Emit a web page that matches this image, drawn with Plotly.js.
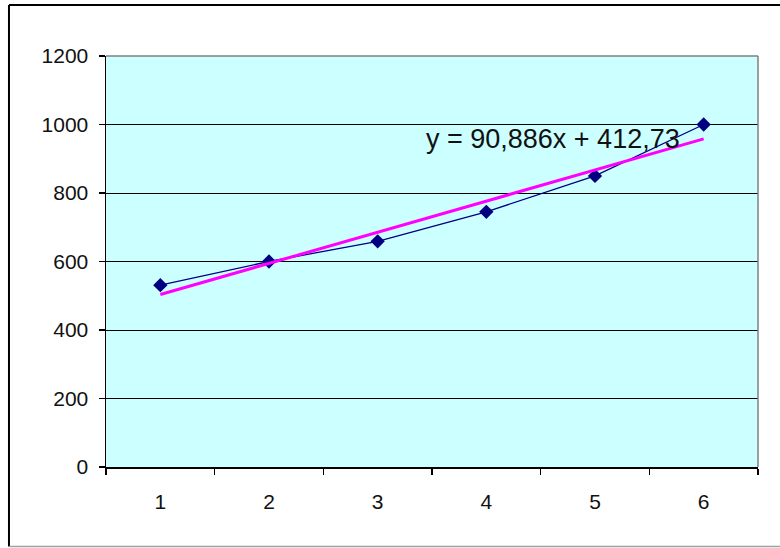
<!DOCTYPE html>
<html>
<head>
<meta charset="utf-8">
<script src="https://cdn.plot.ly/plotly-3.0.1.min.js"></script>
<style>html,body{margin:0;padding:0;background:#fff;}#chart{width:780px;height:548px;}</style>
</head>
<body>
<div id="chart"></div>
<script>
const categories = ["1", "2", "3", "4", "5", "6"];
const values = [531, 600, 659, 745, 850, 1000];
const yTicks = [0, 200, 400, 600, 800, 1000, 1200];

// least-squares linear trend over category index 1..n
const xs = categories.map((c, i) => i + 1);
const n = xs.length;
const mx = xs.reduce((a, b) => a + b, 0) / n;
const my = values.reduce((a, b) => a + b, 0) / n;
let sxy = 0, sxx = 0;
for (let i = 0; i < n; i++) { sxy += (xs[i] - mx) * (values[i] - my); sxx += (xs[i] - mx) ** 2; }
const slope = sxy / sxx;
const intercept = my - slope * mx;
const trend = xs.map(x => slope * x + intercept);
const fmt = (v, d) => v.toFixed(d).replace('.', ',');
const eqText = 'y = ' + fmt(slope, 3) + 'x + ' + fmt(intercept, 2);

const data = [
  {
    x: categories, y: values, type: 'scatter', mode: 'lines+markers',
    line: {color: '#000080', width: 1.3},
    marker: {symbol: 'diamond', size: 11, color: '#000080'},
    hoverinfo: 'skip'
  },
  {
    x: categories, y: trend, type: 'scatter', mode: 'lines',
    line: {color: '#FF00FF', width: 3},
    hoverinfo: 'skip'
  }
];

const tickFont = {family: 'Arial, "Liberation Sans", sans-serif', color: '#111', size: 21};

const layout = {
  width: 780, height: 548,
  margin: {l: 106, r: 22, t: 56, b: 81},
  paper_bgcolor: '#ffffff',
  plot_bgcolor: '#CCFFFF',
  showlegend: false,
  font: tickFont,
  xaxis: {
    type: 'category', range: [-0.5, 5.5], fixedrange: true,
    tickson: 'boundaries', ticks: 'outside', ticklen: 6, tickwidth: 1.5, tickcolor: '#000',
    tickfont: tickFont,
    showgrid: false, showline: true, linecolor: '#000', linewidth: 1.5,
    ticklabelstandoff: 15, zeroline: false
  },
  yaxis: {
    range: [0, 1200], tickvals: yTicks, ticktext: yTicks.map(String), fixedrange: true,
    ticks: 'outside', ticklen: 6, tickwidth: 1.5, tickcolor: '#000',
    tickfont: tickFont,
    showgrid: true, gridcolor: '#000', gridwidth: 1,
    showline: true, linecolor: '#000', linewidth: 1.5,
    ticklabelstandoff: 6, zeroline: false
  },
  shapes: [
    {type: 'line', xref: 'paper', yref: 'paper', x0: 0, x1: 1, y0: 1, y1: 1, line: {color: '#808080', width: 1.5}},
    {type: 'line', xref: 'paper', yref: 'paper', x0: 1, x1: 1, y0: 0, y1: 1, line: {color: '#808080', width: 1.5}},
    {type: 'line', xref: 'paper', yref: 'paper', x0: -0.1488, x1: 1.04, y0: 1.1241, y1: 1.1241, line: {color: '#000', width: 2}},
    {type: 'line', xref: 'paper', yref: 'paper', x0: -0.1488, x1: -0.1488, y0: 1.1241, y1: -0.1934, line: {color: '#000', width: 2}},
    {type: 'line', xref: 'paper', yref: 'paper', x0: -0.1488, x1: 1.04, y0: -0.1934, y1: -0.1934, line: {color: '#A0A0A0', width: 1.5}}
  ],
  annotations: [
    {xref: 'paper', yref: 'paper', x: 0.6856, y: 0.798, xanchor: 'center', yanchor: 'middle',
     text: eqText, showarrow: false, font: {family: 'Arial, "Liberation Sans", sans-serif', size: 27, color: '#111'}}
  ]
};

Plotly.newPlot('chart', data, layout, {displayModeBar: false, staticPlot: true});
</script>
</body>
</html>
